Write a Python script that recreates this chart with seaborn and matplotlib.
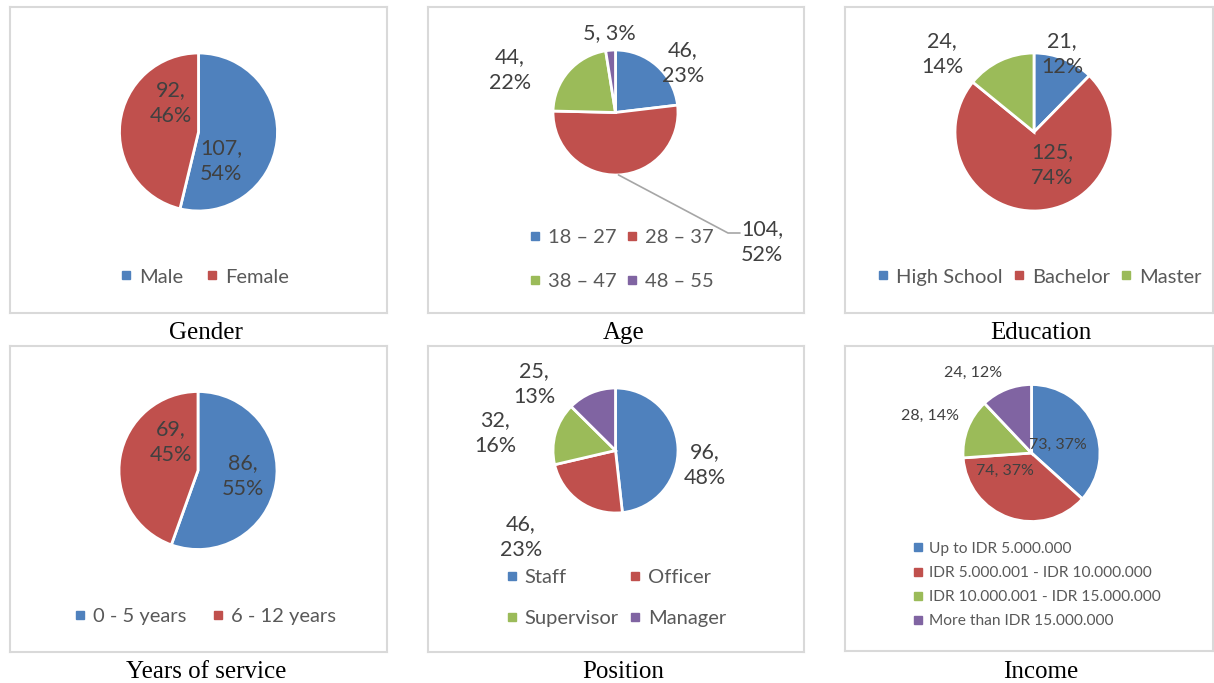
import matplotlib
matplotlib.use("Agg")
import matplotlib.pyplot as plt
from matplotlib.lines import Line2D
import numpy as np
import seaborn as sns

# ---------------- data ----------------
gender_labels = ["Male", "Female"]
gender_values = [107, 92]
age_labels = ["18 – 27", "28 – 37", "38 – 47", "48 – 55"]
age_values = [46, 104, 44, 5]
edu_labels = ["High School", "Bachelor", "Master"]
edu_values = [21, 125, 24]
years_labels = ["0 - 5 years", "6 - 12 years"]
years_values = [86, 69]
pos_labels = ["Staff", "Officer", "Supervisor", "Manager"]
pos_values = [96, 46, 32, 25]
inc_labels = ["Up to IDR 5.000.000", "IDR 5.000.001 - IDR 10.000.000",
              "IDR 10.000.001 - IDR 15.000.000", "More than IDR 15.000.000"]
inc_values = [73, 74, 28, 24]
captions = ["Gender", "Age", "Education", "Years of service", "Position", "Income"]

# ---------------- style ----------------
sns.set_style("white")
plt.rcParams['font.family'] = ['Lato', 'DejaVu Sans']
palette = sns.color_palette(["#4F81BD", "#C0504D", "#9BBB59", "#8064A2"])
LABEL_C = "#404040"
LEG_C = "#595959"
BORDER_C = "#D9D9D9"

W, H = 1214, 683
fig = plt.figure(figsize=(W / 100, H / 100), dpi=100)


def panel(box, center, radius, values, labels, label_pos, label_size, inline_flags,
          leg_anchor, leg_loc, leg_ncol, leg_size, leg_colsp, leg_rowsp,
          caption, cap_x, cap_y, leg_order=None):
    x0, y0, x1, y1 = box
    ax = fig.add_axes([x0 / W, 1 - y1 / H, (x1 - x0) / W, (y1 - y0) / H])
    cols = palette[:len(values)]
    wedges, _ = ax.pie(values, colors=cols, startangle=90, counterclock=False,
                       center=(center[0], H - center[1]), radius=radius,
                       wedgeprops=dict(edgecolor="white", linewidth=2), frame=True)
    ax.set_xlim(x0, x1)
    ax.set_ylim(H - y1, H - y0)
    ax.set_aspect("auto")
    ax.set_xticks([])
    ax.set_yticks([])
    for s in ax.spines.values():
        s.set_visible(True)
        s.set_color(BORDER_C)
        s.set_linewidth(1.5)
    total = sum(values)
    for v, (lx, ly), inl in zip(values, label_pos, inline_flags):
        pct = int(round(100 * v / total))
        txt = f"{v}, {pct}%" if inl else f"{v},\n{pct}%"
        ax.text(lx, H - ly, txt, ha="center", va="center", fontsize=label_size,
                color=LABEL_C, linespacing=1.4)
    handles = [Line2D([], [], marker="s", ls="none", color=c, markersize=5.5)
               for c in cols]
    labs = list(labels)
    if leg_order is not None:
        handles = [handles[i] for i in leg_order]
        labs = [labs[i] for i in leg_order]
    ax.legend(handles, labs, ncol=leg_ncol, loc=leg_loc,
              bbox_to_anchor=(leg_anchor[0], H - leg_anchor[1]),
              bbox_transform=ax.transData, frameon=False, fontsize=leg_size,
              labelcolor=LEG_C, handletextpad=0.3, handlelength=0.7,
              columnspacing=leg_colsp, labelspacing=leg_rowsp, borderpad=0,
              borderaxespad=0)
    fig.text(cap_x / W, 1 - cap_y / H, caption, ha="center", va="baseline",
             fontsize=18, family="Liberation Serif", color="black")
    return ax, wedges


# Gender
panel((10, 7, 387, 313), (198.5, 132), 79, gender_values, gender_labels,
      [(221, 161), (171, 103)], 15.5, [False, False],
      (204, 277), "center", 2, 14.5, 1.1, 0.5, captions[0], 206, 339)

# Age
ax_age, w_age = panel((428, 7, 804, 313), (615.5, 112.5), 62.5, age_values, age_labels,
                      [(683, 63), (762, 242), (510, 70), (609, 33)], 15.5,
                      [False, False, False, True],
                      (621, 259.5), "center", 2, 14.5, 0.4, 1.35, captions[1], 624, 339,
                      leg_order=[0, 2, 1, 3])
# leader line for the large Age slice
wd = w_age[1]
mid = np.deg2rad((wd.theta1 + wd.theta2) / 2)
cx, cy = wd.center
sx, sy = cx + wd.r * np.cos(mid), cy + wd.r * np.sin(mid)
ax_age.plot([sx, 728, 740], [sy, H - 233, H - 233], color="#A6A6A6", lw=1.2)

# Education
panel((845, 7, 1213, 313), (1034, 132), 79, edu_values, edu_labels,
      [(1062, 54), (1052, 165), (942, 54)], 15.5, [False, False, False],
      (1038.5, 277), "center", 3, 14.5, 0.45, 0.5, captions[2], 1041, 339)

# Years of service
panel((10, 346, 387, 652), (198, 470.5), 79, years_values, years_labels,
      [(243, 476), (171, 442)], 15.5, [False, False],
      (204.5, 616), "center", 2, 14.5, 1.2, 0.5, captions[3], 206, 678)

# Position
panel((428, 346, 804, 652), (615.5, 450.5), 62.5, pos_values, pos_labels,
      [(705, 465), (521, 537), (495, 433), (534, 384)], 15.5, [False] * 4,
      (615.5, 598), "center", 2, 14.5, 0.45, 1.2, captions[4], 623, 678,
      leg_order=[0, 2, 1, 3])

# Income
panel((845, 346, 1213, 651), (1031.5, 453), 68.5, inc_values, inc_labels,
      [(1058, 445), (1005, 471), (930, 416), (973, 373)], 11.5, [True] * 4,
      (913, 585), "center left", 1, 11.2, 0.5, 0.65, captions[5], 1041, 678)

fig.savefig("out.png", dpi=100)
